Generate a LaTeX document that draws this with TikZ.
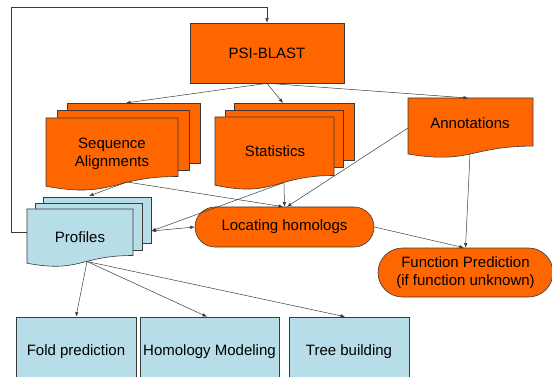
\documentclass[tikz,border=0pt]{standalone}
\usepackage{fontspec}
\setmainfont{Liberation Sans}
\usetikzlibrary{arrows.meta}
\definecolor{pptorange}{HTML}{FF6600}
\definecolor{pptblue}{HTML}{B7DEE8}
\definecolor{linegray}{HTML}{3A3A3A}
\tikzset{
	sheet/.style={draw=linegray, line width=0.6pt},
	orangesheet/.style={sheet, fill=pptorange},
	bluesheet/.style={sheet, fill=pptblue},
	label/.style={font=\fontsize{15}{18}\selectfont, align=center, text=black},
	link/.style={draw=linegray, line width=0.5pt, -{Latex[length=4.5pt,width=3.5pt]}},
}

\begin{document}
\begin{tikzpicture}[x=1pt,y=-1pt]
			\clip (0,0) rectangle (552,377);
			
			% top box
			\node[orangesheet, label, minimum width=154pt, minimum height=60pt](psi) at (267,53) {PSI-BLAST};
			
			% sequence alignments (three sheets)
			\node[orangesheet, minimum width=133pt, minimum height=60pt, anchor=north west](seq3) at (67,103) {};
			\node[orangesheet, minimum width=132pt, minimum height=60pt, anchor=north west](seq2) at (57,110) {};
			\draw[orangesheet] (46,118) -- (178,118) -- (178,176.5) .. controls (112,176.5) and (112,198.8) .. (46,186.2) -- cycle;
			\node[label](seq) at (112,154) {Sequence\\Alignments};
			
			% statistics (three sheets)
			\node[orangesheet, minimum width=120pt, minimum height=57pt, anchor=north west](stat3) at (234,103) {};
			\node[orangesheet, minimum width=118pt, minimum height=57pt, anchor=north west](stat2) at (225,110) {};
			\draw[orangesheet] (215,117) -- (334,117) -- (334,175.5) .. controls (274.5,175.5) and (274.5,197.8) .. (215,185.2) -- cycle;
			\node[label](stat) at (275,151) {Statistics};
			
			% annotations
			\draw[orangesheet] (408,98) -- (533,98) -- (533,146.1) .. controls (470.5,146.1) and (470.5,164.4) .. (408,154) -- cycle;
			\node[label](anno) at (470,123) {Annotations};
			
			% profiles (three sheets)
			\node[bluesheet, minimum width=108pt, minimum height=46pt, anchor=north west](prof3) at (43,197) {};
			\node[bluesheet, minimum width=107pt, minimum height=47pt, anchor=north west](prof2) at (35,203) {};
			\draw[bluesheet] (27,209) -- (133,209) -- (133,255.5) .. controls (80,255.5) and (80,273.2) .. (27,263.2) -- cycle;
			\node[label](prof) at (80,237) {Profiles};
			
			% rounded boxes
			\node[orangesheet, label, minimum width=179pt, minimum height=40pt, rounded corners=20pt](loc) at (284.5,227) {Locating homologs};
			\node[orangesheet, label, minimum width=175pt, minimum height=49pt, rounded corners=24.5pt](fp) at (465.5,272.5) {Function Prediction\\(if function unknown)};
			
			% bottom row
			\node[bluesheet, label, minimum width=120pt, minimum height=70pt](fold) at (76,352) {Fold prediction};
			\node[bluesheet, label, minimum width=139pt, minimum height=70pt](hom) at (209.5,352) {Homology Modeling};
			\node[bluesheet, label, minimum width=120pt, minimum height=70pt](tree) at (349,352) {Tree building};
			
			% points on the sheet edges
			\coordinate (seqtop) at (126,103);
			\coordinate (stattop) at (283,103);
			\coordinate (annotop) at (468,98);
			\coordinate (seqbot) at (127,182);
			\coordinate (statbot) at (284,182.6);
			\coordinate (annowest) at (408,128);
			\coordinate (annobot) at (470,154);
			\coordinate (proftop) at (89,196);
			\coordinate (profeast) at (151.5,231);
			\coordinate (profbot) at (87,261.5);
			\coordinate (profwest) at (27,232);
			
			\draw[link] (psi.south) -- (seqtop);
			\draw[link] (psi.south) -- (stattop);
			\draw[link] (psi.south) -- (annotop);
			
			\draw[link] (seqbot) -- (proftop);
			\draw[link] (seqbot) -- ([xshift=-1.5pt]loc.north);
			\draw[link] (statbot) -- (loc.north);
			\draw[link] (statbot) -- (profeast);
			\draw[link] (annowest) -- ([xshift=2.5pt]loc.north);
			\draw[link] (annobot) -- (fp.north);
			
			\draw[link, {Latex[length=4.5pt,width=3.5pt]}-{Latex[length=4.5pt,width=3.5pt]}] (profeast) -- (loc.west);
			\draw[link] (loc.east) -- ([xshift=-1.5pt]fp.north);
			
			\draw[link] (profbot) -- (fold.north);
			\draw[link] (profbot) -- ([xshift=-2.5pt]hom.north);
			\draw[link] (profbot) -- ([xshift=-4pt]tree.north);
			
			% back to the top
			\draw[link] (profwest) -- ++(-16,0) |- ([yshift=15pt]psi.north) -- (psi.north);
		\end{tikzpicture}
\end{document}
